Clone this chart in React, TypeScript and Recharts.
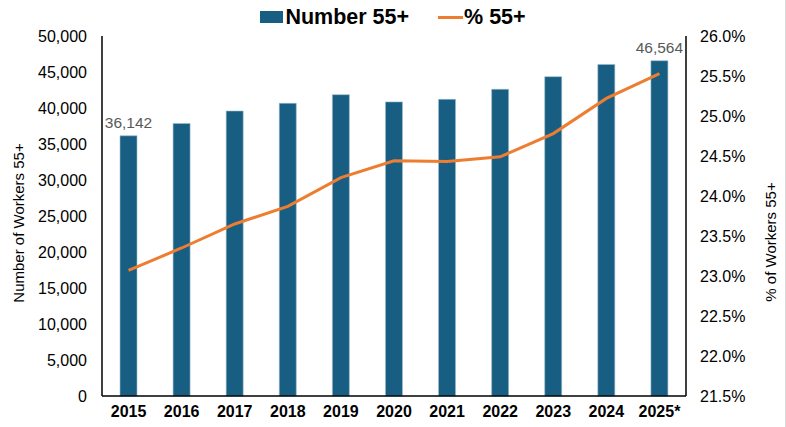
import { ComposedChart, Bar, Line, XAxis, YAxis, LabelList } from 'recharts'

const years = ['2015', '2016', '2017', '2018', '2019', '2020', '2021', '2022', '2023', '2024', '2025*']
const workers55 = [36142, 37850, 39580, 40650, 41850, 40850, 41200, 42600, 44350, 46050, 46564]
const pct55 = [23.07, 23.35, 23.65, 23.87, 24.23, 24.44, 24.43, 24.49, 24.78, 25.22, 25.53]
const leftTicks = [0, 5000, 10000, 15000, 20000, 25000, 30000, 35000, 40000, 45000, 50000]
const rightTicks = [21.5, 22.0, 22.5, 23.0, 23.5, 24.0, 24.5, 25.0, 25.5, 26.0]

const data = years.map((year, i) => ({ year, workers: workers55[i], pct: pct55[i] }))

const BAR_COLOR = '#175e82'
const LINE_COLOR = '#ed7d31'
const FONT = 'Liberation Sans, Arial, sans-serif'

const LegendBox = () => (
  <div style={{ position: 'absolute', top: 4, left: 0, width: 786, display: 'flex', justifyContent: 'center', alignItems: 'center', fontFamily: FONT, fontWeight: 700, fontSize: 21.5, color: '#000', lineHeight: '26px' }}>
    <span style={{ display: 'inline-block', width: 23, height: 12, background: BAR_COLOR, marginRight: 2 }} />
    <span>Number 55+</span>
    <span style={{ display: 'inline-block', width: 25, height: 3, background: LINE_COLOR, marginLeft: 29, marginRight: 1 }} />
    <span>% 55+</span>
  </div>
)

const edgeLabel = (props: any) => {
  const { x, y, width, value, index } = props
  if (index !== 0 && index !== years.length - 1) return null
  return (
    <text x={x + width / 2} y={y - 8} textAnchor="middle" fill="#595959" fontSize={15.5} fontFamily={FONT}>
      {Number(value).toLocaleString('en-US')}
    </text>
  )
}

const axisTitle = (text: string, dx: number, dy: number) => (props: any) => {
  const { viewBox } = props
  const cx = viewBox.x + dx
  const cy = viewBox.y + viewBox.height / 2 + dy
  return (
    <text x={cx} y={cy} transform={`rotate(-90 ${cx} ${cy})`} textAnchor="middle" dominantBaseline="central" fontSize={15} fontFamily={FONT} fill="#000">
      {text}
    </text>
  )
}

export default function App() {
  return (
    <div style={{ position: 'absolute', left: 0, top: 0, width: 785, height: 427, background: '#fff', borderRight: '1px solid #d9d9d9' }}>
      <LegendBox />
      <ComposedChart width={786} height={427} data={data} margin={{ top: 36, right: 0, bottom: 0, left: 0 }}>
        <XAxis
          dataKey="year"
          height={31}
          tickLine={false}
          tickSize={0}
          tickMargin={10}
          axisLine={{ stroke: '#000', strokeWidth: 1.5 }}
          tick={{ fill: '#000', fontSize: 16, fontWeight: 700, fontFamily: FONT }}
          interval={0}
        />
        <YAxis
          yAxisId="left"
          width={102}
          domain={[0, 50000]}
          ticks={leftTicks}
          tickLine={false}
          tickSize={0}
          tickMargin={15}
          axisLine={{ stroke: '#000', strokeWidth: 1.5 }}
          tick={{ fill: '#000', fontSize: 16, fontFamily: FONT }}
          tickFormatter={(v: number) => v.toLocaleString('en-US')}
          label={axisTitle('Number of Workers 55+', 18, 7)}
        />
        <YAxis
          yAxisId="right"
          orientation="right"
          width={100}
          domain={[21.5, 26]}
          ticks={rightTicks}
          tickLine={false}
          tickSize={0}
          tickMargin={14}
          axisLine={{ stroke: '#000', strokeWidth: 1.5 }}
          tick={{ fill: '#000', fontSize: 16, fontFamily: FONT }}
          tickFormatter={(v: number) => v.toFixed(1) + '%'}
          label={axisTitle('% of Workers 55+', 84, 26)}
        />
        <Bar yAxisId="left" dataKey="workers" fill={BAR_COLOR} stroke="#9dbccd" strokeWidth={0.6} barSize={17} isAnimationActive={false}>
          <LabelList dataKey="workers" content={edgeLabel} />
        </Bar>
        <Line yAxisId="right" dataKey="pct" type="linear" stroke={LINE_COLOR} strokeWidth={3} dot={false} activeDot={false} isAnimationActive={false} />
      </ComposedChart>
    </div>
  )
}
